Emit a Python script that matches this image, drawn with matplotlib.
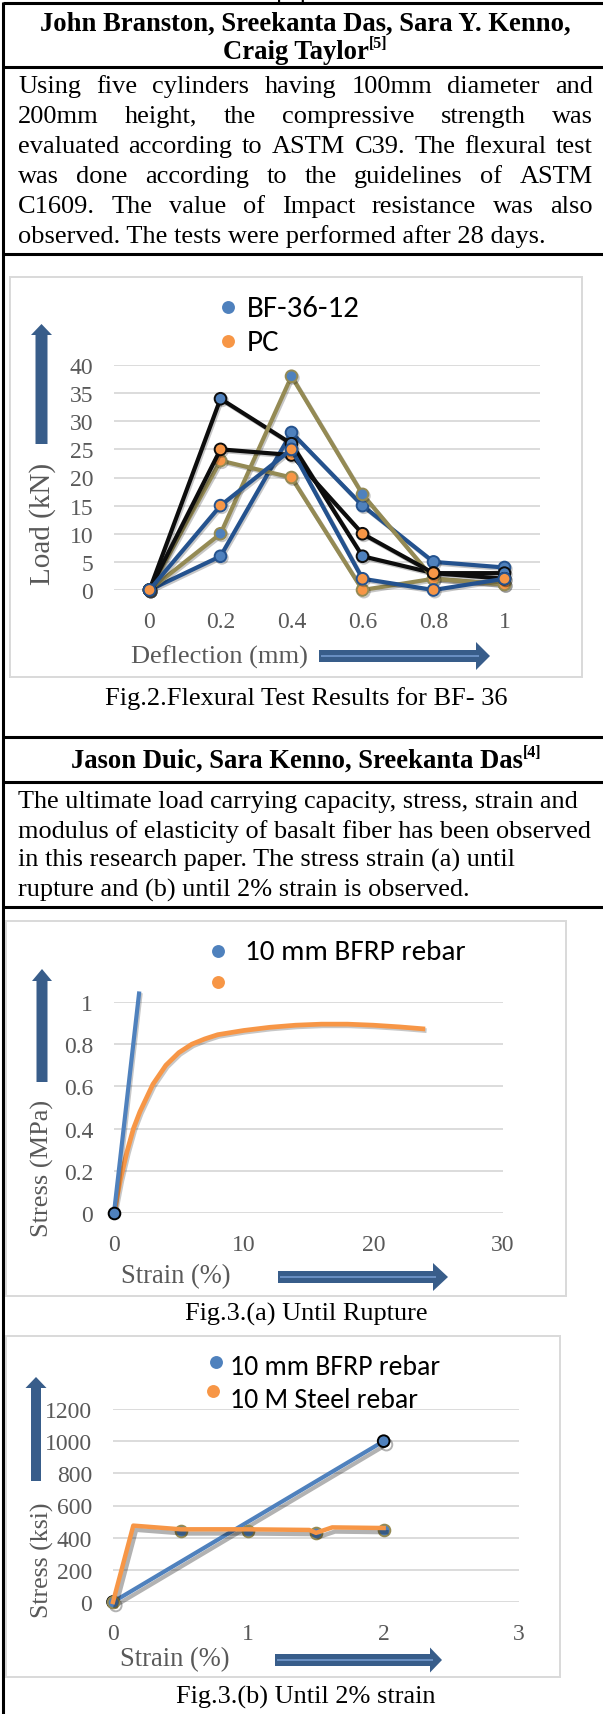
import matplotlib
matplotlib.use("Agg")
import matplotlib.pyplot as plt
import matplotlib.patheffects as pe
from matplotlib import font_manager as fm
from matplotlib.patches import Polygon, Rectangle

W, H, DPI = 603, 1715, 100

# ---------------- data ----------------
# Fig. 2 - flexural test, load vs deflection
deflection_mm = [0, 0.2, 0.4, 0.6, 0.8, 1.0]
bf_load_a = [0, 34, 26, 6, 3, 3]
bf_load_b = [0, 10, 38, 17, 2, 1]
bf_load_c = [0, 6, 28, 15, 5, 4]
pc_load_a = [0, 25, 24, 10, 3, 2]
pc_load_b = [0, 23, 20, 0, 2, 1]
pc_load_c = [0, 15, 25, 2, 0, 2]
load_ticks = [0, 5, 10, 15, 20, 25, 30, 35, 40]
deflection_labels = ["0", "0.2", "0.4", "0.6", "0.8", "1"]

# Fig. 3(a) - stress/strain until rupture
bfrp_rupture_strain = [0, 1.95]
bfrp_rupture_stress = [0, 1.05]
steel_rupture_strain = [0, 0.5, 1, 1.5, 2, 3, 4, 5, 6, 7, 8, 10, 12, 14, 16, 18, 20, 22, 24]
steel_rupture_stress = [0, 0.16, 0.29, 0.40, 0.48, 0.61, 0.70, 0.76, 0.80, 0.825, 0.845,
                        0.865, 0.88, 0.89, 0.895, 0.895, 0.89, 0.882, 0.872]
rupture_stress_ticks = [0, 0.2, 0.4, 0.6, 0.8, 1.0]
rupture_stress_labels = ["0", "0.2", "0.4", "0.6", "0.8", "1"]
rupture_strain_ticks = [0, 10, 20, 30]

# Fig. 3(b) - stress/strain until 2 % strain
bfrp_2pct_strain = [0, 2]
bfrp_2pct_stress = [0, 1000]
steel_2pct_strain = [0, 0.15, 0.5, 1.0, 1.45, 1.5, 1.62, 2.0]
steel_2pct_stress = [0, 475, 452, 452, 448, 430, 464, 460]
steel_sample_strain = [0, 0.5, 1.0, 1.5, 2.0]
steel_sample_stress = [0, 440, 440, 430, 450]
ksi_ticks = [0, 200, 400, 600, 800, 1000, 1200]
strain_2pct_ticks = [0, 1, 2, 3]

# ---------------- text ----------------
header1 = ["John Branston, Sreekanta Das, Sara Y. Kenno,", "Craig Taylor"]
header1_ref = "[5]"
para1 = ["Using five cylinders having 100mm diameter and",
         "200mm height, the compressive strength was",
         "evaluated according to ASTM C39. The flexural test",
         "was done according to the guidelines of ASTM",
         "C1609. The value of Impact resistance was also",
         "observed. The tests were performed after 28 days."]
caption2 = "Fig.2.Flexural Test Results for BF- 36"
header2 = "Jason Duic, Sara Kenno, Sreekanta Das"
header2_ref = "[4]"
para2 = ["The ultimate load carrying capacity, stress, strain and",
         "modulus of elasticity of basalt fiber has been observed",
         "in this research paper. The stress strain (a) until",
         "rupture and (b) until 2% strain is observed."]
caption3a = "Fig.3.(a) Until Rupture"
caption3b = "Fig.3.(b) Until 2% strain"

# ---------------- style ----------------
BLUE = "#4F81BD"
ORANGE = "#F79646"
NAVY = "#24528E"
OLIVE = "#948A54"
BLACK = "#0D0D0D"
GRID = "#D9D9D9"
AXTXT = "#595959"
ARROW = "#385D8A"
ARROW_HI = "#6E94C8"

LIB = "/usr/share/fonts/truetype/liberation/"


def font_file(candidates, fallback):
    for name in candidates:
        try:
            return fm.findfont(fm.FontProperties(family=name), fallback_to_default=False)
        except Exception:
            continue
    return fallback


SERIF_REG = font_file(["Times New Roman", "Tinos"], LIB + "LiberationSerif-Regular.ttf")
SERIF_BOLD = font_file([], LIB + "LiberationSerif-Bold.ttf")
if "Tinos" in SERIF_REG or "Times" in SERIF_REG:
    SERIF_BOLD = SERIF_REG.replace("Regular", "Bold").replace("times.ttf", "timesbd.ttf")
SANS_REG = font_file(["Carlito", "Calibri", "Lato"], fm.findfont("DejaVu Sans"))


def serif(size, bold=False):
    return fm.FontProperties(fname=SERIF_BOLD if bold else SERIF_REG, size=size)


def sans(size):
    return fm.FontProperties(fname=SANS_REG, size=size)


fig = plt.figure(figsize=(W / DPI, H / DPI), dpi=DPI)
page = fig.add_axes([0, 0, 1, 1], zorder=0)
page.set_xlim(0, W)
page.set_ylim(H, 0)
page.axis("off")
renderer = fig.canvas.get_renderer()
PX = DPI / 72.0


def text_width(s, fp):
    t = page.text(0, 0, s, fontproperties=fp)
    w = t.get_window_extent(renderer=renderer).width
    t.remove()
    return w


def fit(s, width, maker, **kw):
    return 20.0 * width / text_width(s, maker(20.0, **kw))


def hline(y, x0=3.2, x1=W):
    page.plot([x0, x1], [y, y], color="black", lw=2.2, solid_capstyle="butt")


def titled(main, ref, xc, yb, size):
    f1, f2 = serif(size, True), serif(size * 0.6, True)
    w1 = text_width(main, f1)
    w2 = text_width(ref, f2)
    x = xc - (w1 + w2) / 2
    page.text(x, yb, main, fontproperties=f1, ha="left", va="baseline")
    page.text(x + w1, yb - 0.40 * size * PX, ref, fontproperties=f2, ha="left", va="baseline")


def justified(lines, x0, x1, baselines, size):
    fp = serif(size)
    for i, (line, yb) in enumerate(zip(lines, baselines)):
        if i == len(lines) - 1:
            page.text(x0, yb, line, fontproperties=fp, ha="left", va="baseline")
            continue
        words = line.split()
        widths = [text_width(w, fp) for w in words]
        gap = (x1 - x0 - sum(widths)) / (len(words) - 1)
        x = x0
        for w, wd in zip(words, widths):
            page.text(x, yb, w, fontproperties=fp, ha="left", va="baseline")
            x += wd + gap


def h_arrow(x0, xh, xt, yc, sh, hh):
    pts = [(x0, yc - sh / 2), (xh, yc - sh / 2), (xh, yc - hh / 2), (xt, yc),
           (xh, yc + hh / 2), (xh, yc + sh / 2), (x0, yc + sh / 2)]
    page.add_patch(Polygon(pts, closed=True, facecolor=ARROW, edgecolor="none"))
    page.plot([x0 + 2, xh + 3], [yc, yc], color=ARROW_HI, lw=1.3, solid_capstyle="butt")


def v_arrow(xc, yt, yh, yb, sw, hw):
    pts = [(xc - sw / 2, yb), (xc - sw / 2, yh), (xc - hw / 2, yh), (xc, yt),
           (xc + hw / 2, yh), (xc + sw / 2, yh), (xc + sw / 2, yb)]
    page.add_patch(Polygon(pts, closed=True, facecolor=ARROW, edgecolor="none"))


def chart_box(x0, y0, x1, y1):
    page.add_patch(Rectangle((x0, y0), x1 - x0, y1 - y0, fill=False,
                             edgecolor=GRID, lw=1.4))


TICK_FP = serif(17)


def chart_axes(x0, x1, ytop, ybot):
    ax = fig.add_axes([x0 / W, 1 - ybot / H, (x1 - x0) / W, (ybot - ytop) / H], zorder=2)
    ax.set_facecolor("none")
    for s in ax.spines.values():
        s.set_visible(False)
    ax.yaxis.grid(True, color=GRID, lw=1.3)
    ax.set_axisbelow(True)
    ax.tick_params(length=0, pad=15, labelcolor=AXTXT)
    return ax


def style_ticks(ax):
    for lbl in ax.get_xticklabels() + ax.get_yticklabels():
        lbl.set_fontproperties(TICK_FP)


def legend_entry(x, y, color, label, size, tx, tb):
    page.plot([x], [y], "o", ms=9.3, color=color, mec="none")
    if label:
        page.text(tx, tb, label, fontproperties=sans(size), ha="left", va="baseline",
                  color="black")


def axis_title(x, y, s, width, ha="left", rotation=0):
    page.text(x, y, s, fontproperties=serif(fit(s, width, serif)), color=AXTXT,
              ha=ha, va="center", rotation=rotation)


shadow = [pe.SimpleLineShadow(offset=(1.0, -1.2), shadow_color="k", alpha=0.22), pe.Normal()]

# ---------------- table frame and text ----------------
hline(4)
hline(68)
hline(254.5)
hline(738)
hline(783)
hline(908)
page.plot([3.2, 3.2], [2.9, H], color="black", lw=2.2, solid_capstyle="butt")

body = fit(para2[1], 572, serif)
page.text(305, -1, "paper", fontproperties=serif(body), ha="center", va="baseline")

hsize = fit(header1[0], 529, serif, bold=True)
page.text(305.5, 31, header1[0], fontproperties=serif(hsize, True), ha="center", va="baseline")
titled(header1[1], header1_ref, 305.5, 59, hsize)

p1size = fit(para1[-1], 525, serif)
justified(para1, 18, 593, [93, 123, 153, 183, 213, 243], p1size)

page.text(105, 705, caption2, fontproperties=serif(fit(caption2, 401, serif)),
          ha="left", va="baseline")

titled(header2, header2_ref, 306, 768, hsize)

for line, yb in zip(para2, [808, 838, 867, 897]):
    page.text(18, yb, line, fontproperties=serif(body), ha="left", va="baseline")

page.text(185, 1321, caption3a, fontproperties=serif(fit(caption3a, 242, serif)),
          ha="left", va="baseline")
page.text(176, 1704, caption3b, fontproperties=serif(fit(caption3b, 259, serif)),
          ha="left", va="baseline")

# ---------------- Fig. 2 ----------------
chart_box(10, 278, 582, 678)
ax1 = chart_axes(114, 540, 366, 591)
series1 = [(bf_load_c, NAVY, BLUE), (bf_load_a, BLACK, BLUE), (bf_load_b, OLIVE, BLUE),
           (pc_load_b, OLIVE, ORANGE), (pc_load_a, BLACK, ORANGE), (pc_load_c, NAVY, ORANGE)]
for vals, lc, mc in series1:
    ax1.plot(deflection_mm, vals, color=lc, lw=3.0, marker="o", ms=8.4, mfc=mc, mec=lc,
             mew=1.4, clip_on=False, path_effects=shadow)
ax1.set_xlim(-0.1, 1.1)
ax1.set_ylim(0, 40)
ax1.set_yticks(load_ticks)
ax1.set_xticks(deflection_mm)
ax1.set_xticklabels(deflection_labels)
style_ticks(ax1)

v_arrow(41.5, 325, 336, 445, 12, 21)
h_arrow(319, 476, 490, 657, 12, 28)
axis_title(131, 657, "Deflection (mm)", 177)
axis_title(43, 524, "Load (kN)", 122, ha="center", rotation=90)
lg1 = fit("BF-36-12", 113, sans)
legend_entry(228, 308, BLUE, "BF-36-12", lg1, 247, 317)
legend_entry(228, 342, ORANGE, "PC", lg1, 247, 351)

# ---------------- Fig. 3(a) ----------------
chart_box(6, 922, 566, 1297)
ax2 = chart_axes(114, 503, 1003, 1214)
ax2.plot(steel_rupture_strain, steel_rupture_stress, color=ORANGE, lw=3.4, clip_on=False,
         solid_capstyle="butt", path_effects=shadow)
ax2.plot(bfrp_rupture_strain, bfrp_rupture_stress, color=BLUE, lw=3.0, clip_on=False,
         solid_capstyle="butt", path_effects=shadow)
ax2.plot(bfrp_rupture_strain[:1], bfrp_rupture_stress[:1], "o", ms=8.4, mfc=BLUE,
         mec="black", mew=1.4, clip_on=False)
ax2.set_xlim(0, 30)
ax2.set_ylim(0, 1)
ax2.set_yticks(rupture_stress_ticks)
ax2.set_yticklabels(rupture_stress_labels)
ax2.set_xticks(rupture_strain_ticks)
style_ticks(ax2)

v_arrow(42, 970, 982, 1083, 11, 20)
h_arrow(278, 433, 448, 1278, 12, 28)
axis_title(121, 1277, "Strain (%)", 110)
axis_title(42, 1168, "Stress (MPa)", 137, ha="center", rotation=90)
lg2 = fit("10 mm BFRP rebar", 220, sans)
legend_entry(218, 952, BLUE, "10 mm BFRP rebar", lg2, 245, 960)
legend_entry(218, 983, ORANGE, "", lg2, 245, 991)

# ---------------- Fig. 3(b) ----------------
chart_box(6, 1337, 560, 1678)
ax3 = chart_axes(113, 519, 1410, 1603)
ax3.plot(steel_sample_strain, steel_sample_stress, "o", ms=8.4, mfc=BLUE, mec=OLIVE,
         mew=1.4, clip_on=False, zorder=2)
ax3.plot(bfrp_2pct_strain, bfrp_2pct_stress, color=BLUE, lw=3.0, marker="o", ms=8.4,
         mfc=BLUE, mec="black", mew=1.4, clip_on=False, zorder=1,
         path_effects=[pe.SimpleLineShadow(offset=(2, -2.5), shadow_color="k", alpha=0.3),
                       pe.Normal()])
ax3.plot(steel_2pct_strain, steel_2pct_stress, color=ORANGE, lw=3.2, clip_on=False, zorder=3,
         path_effects=[pe.SimpleLineShadow(offset=(2, -3), shadow_color="k", alpha=0.3),
                       pe.Normal()])
ax3.set_xlim(0, 3)
ax3.set_ylim(0, 1200)
ax3.set_yticks(ksi_ticks)
ax3.set_xticks(strain_2pct_ticks)
style_ticks(ax3)

v_arrow(36, 1378, 1389, 1482, 10, 21)
h_arrow(275, 430, 442, 1661, 12, 25)
axis_title(120, 1660, "Strain (%)", 110)
axis_title(42, 1560, "Stress (ksi)", 116, ha="center", rotation=90)
lg3 = fit("10 mm BFRP rebar", 210, sans)
legend_entry(216, 1363, BLUE, "10 mm BFRP rebar", lg3, 230, 1375)
legend_entry(213, 1392, ORANGE, "10 M Steel rebar", lg3, 230, 1408)

fig.savefig("out.png", dpi=DPI)
